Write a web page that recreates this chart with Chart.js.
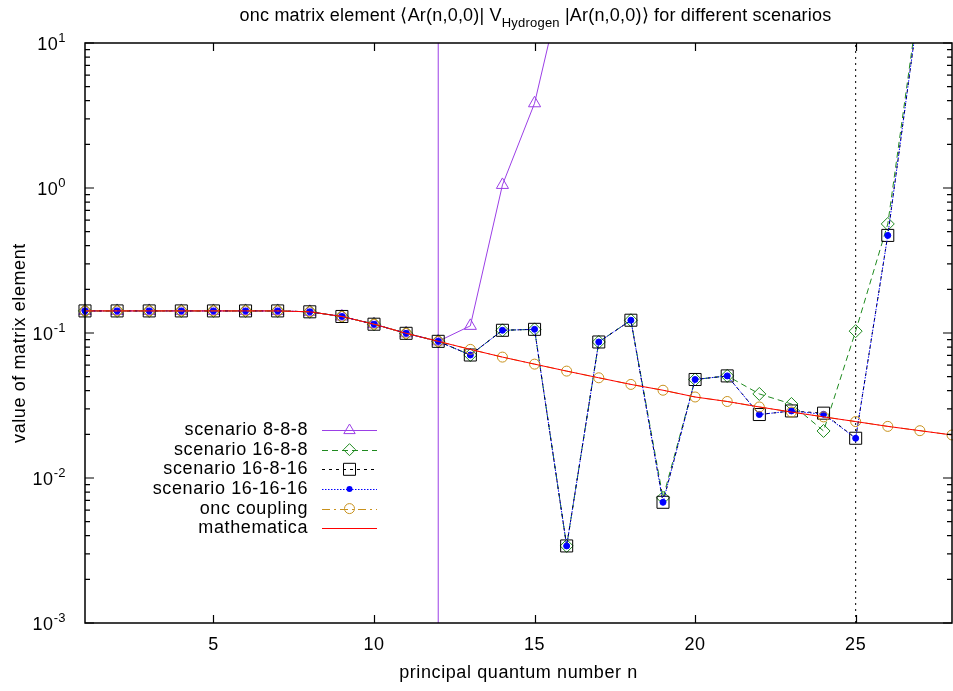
<!DOCTYPE html>
<html><head><meta charset="utf-8">
<script src="https://cdn.jsdelivr.net/npm/chart.js@4/dist/chart.umd.min.js"></script>
<style>html,body{margin:0;padding:0;background:#fff;}#wrap{width:953px;height:691px;}</style>
</head><body><div id="wrap"><canvas id="c" width="953" height="691"></canvas></div>
<script>
// ---- data ----
const nValues = [1,2,3,4,5,6,7,8,9,10,11,12,13,14,15,16,17,18,19,20,21,22,23,24,25,26,27,28];
const scenario888    = [0.142,0.142,0.142,0.142,0.142,0.142,0.142,0.140,0.130,0.115,0.0995,0.0876,0.112,1.05,3.84,34];
const scenario1688   = [0.142,0.142,0.142,0.142,0.142,0.142,0.142,0.140,0.130,0.115,0.0995,0.0876,0.0705,0.1044,0.106,0.0034,0.0867,0.1225,0.0073,0.0478,0.0506,0.038,0.0324,0.0211,0.103,0.565,22.5];
const scenario16816  = [0.142,0.142,0.142,0.142,0.142,0.142,0.142,0.140,0.130,0.115,0.0995,0.0876,0.0705,0.1044,0.106,0.0034,0.0867,0.1225,0.0068,0.0478,0.0506,0.0274,0.029,0.028,0.0188,0.471,20.4];
const scenario161616 = [0.142,0.142,0.142,0.142,0.142,0.142,0.142,0.140,0.130,0.115,0.0995,0.0876,0.0705,0.1044,0.106,0.0034,0.0867,0.1225,0.0068,0.0478,0.0506,0.0274,0.029,0.0275,0.0188,0.471,20.4];
const oncCoupling    = [0.142,0.142,0.142,0.142,0.142,0.142,0.142,0.140,0.130,0.115,0.0995,0.0876,0.0771,0.0682,0.0610,0.0546,0.0491,0.0442,0.0403,0.0362,0.0337,0.0309,0.0285,0.0264,0.0245,0.0227,0.0212,0.0198];
const mathematica    = [0.142,0.142,0.142,0.142,0.142,0.142,0.142,0.140,0.130,0.115,0.0995,0.0876,0.0771,0.0682,0.0610,0.0546,0.0491,0.0442,0.0403,0.0362,0.0337,0.0309,0.0285,0.0264,0.0245,0.0227,0.0212,0.0198];
const cutoffN888   = [12];
const cutoffN16816 = [25];
const xRange = [1, 28];
const yRange = [1e-3, 10];
const xTickLabels = [5, 10, 15, 20, 25];
const yTickExponents = [-3, -2, -1, 0, 1];
const seriesLabels = ['scenario 8-8-8','scenario 16-8-8','scenario 16-8-16','scenario 16-16-16','onc coupling','mathematica'];

// ---- styling ----
const FONT = '"Liberation Sans", Arial, Helvetica, sans-serif';
const COL = {p:'#9b3fe6', g:'#1f8a1f', k:'#000000', b:'#0000ff', o:'#c8911c', r:'#ff0000'};
const CLIP = {left: 12, right: 12, top: 0, bottom: 12};

function pts(ys){ return ys.map((y,i)=>({x:nValues[i], y})); }
function vline(xs){ return [{x:xs[0], y:yRange[0]},{x:xs[0], y:yRange[1]}]; }

function series(label, ys, color, dash, marker, radius, fill, order){
  return {label, data: pts(ys), showLine:true, borderColor:color, borderWidth:1, borderDash:dash,
    pointStyle: marker.style, pointRadius: radius, pointHoverRadius: radius, pointBorderColor: color,
    pointBackgroundColor: fill, pointBorderWidth: 1, tension:0, order, clip: CLIP,
    legendMarker: marker.key, legendRadius: marker.lr};
}

const datasets = [
  series(seriesLabels[0], scenario888, COL.p, [], {style:'triangle', key:'tri', lr:6}, 7, 'rgba(0,0,0,0)', 6),
  series(seriesLabels[1], scenario1688, COL.g, [6,4], {style:'rectRot', key:'dia', lr:6}, 6.5, 'rgba(0,0,0,0)', 5),
  series(seriesLabels[2], scenario16816, COL.k, [3,4], {style:'rect', key:'sq', lr:6}, 8.5, 'rgba(0,0,0,0)', 4),
  series(seriesLabels[3], scenario161616, COL.b, [1.5,1.5], {style:'circle', key:'dot', lr:3}, 3, COL.b, 3),
  series(seriesLabels[4], oncCoupling, COL.o, [8,4,2,4], {style:'circle', key:'circ', lr:5}, 5, 'rgba(0,0,0,0)', 2),
  series(seriesLabels[5], mathematica, COL.r, [], {style:false, key:null, lr:0}, 0, COL.r, 1),
  {label:'', data: vline(cutoffN888), showLine:true, borderColor:COL.p, borderWidth:1, pointRadius:0, order:7, clip:CLIP, noLegend:true},
  {label:'', data: vline(cutoffN16816), showLine:true, borderColor:COL.k, borderWidth:1, borderDash:[2,4], pointRadius:0, order:8, clip:CLIP, noLegend:true}
];

function setFont(ctx, size, spacing){
  ctx.font = size + 'px ' + FONT;
  try { ctx.letterSpacing = (spacing||0) + 'px'; } catch(e) {}
}

function drawMarker(ctx, key, x, y, r, color){
  ctx.save();
  ctx.setLineDash([]);
  ctx.strokeStyle = color; ctx.fillStyle = color; ctx.lineWidth = 1;
  ctx.beginPath();
  if (key === 'tri') {
    ctx.moveTo(x, y - r); ctx.lineTo(x + r*0.95, y + r*0.6); ctx.lineTo(x - r*0.95, y + r*0.6); ctx.closePath(); ctx.stroke();
  } else if (key === 'dia') {
    ctx.moveTo(x, y - r); ctx.lineTo(x + r, y); ctx.lineTo(x, y + r); ctx.lineTo(x - r, y); ctx.closePath(); ctx.stroke();
  } else if (key === 'sq') {
    ctx.rect(x - r, y - r, 2*r, 2*r); ctx.stroke();
  } else if (key === 'dot') {
    ctx.arc(x, y, r, 0, Math.PI*2); ctx.fill();
  } else if (key === 'circ') {
    ctx.arc(x, y, r, 0, Math.PI*2); ctx.stroke();
  }
  ctx.restore();
}

const framePlugin = {
  id: 'frame',
  afterDatasetsDraw(chart){
    const ctx = chart.ctx, a = chart.chartArea, xs = chart.scales.x, ys = chart.scales.y;
    ctx.save();
    ctx.setLineDash([]);
    ctx.strokeStyle = '#000'; ctx.fillStyle = '#000';
    // border
    ctx.lineWidth = 1.5;
    ctx.strokeRect(a.left, a.top, a.right - a.left, a.bottom - a.top);
    // x ticks (inward, bottom and top)
    ctx.lineWidth = 1.2;
    xTickLabels.forEach(v => {
      const px = Math.round(xs.getPixelForValue(v)) + 0.5;
      ctx.beginPath();
      ctx.moveTo(px, a.bottom); ctx.lineTo(px, a.bottom - 8);
      ctx.moveTo(px, a.top); ctx.lineTo(px, a.top + 8);
      ctx.stroke();
    });
    // y ticks: majors and minors, left and right
    yTickExponents.forEach(e => {
      const py = ys.getPixelForValue(Math.pow(10, e));
      ctx.lineWidth = 1.2;
      ctx.beginPath();
      ctx.moveTo(a.left, py); ctx.lineTo(a.left + 9, py);
      ctx.moveTo(a.right, py); ctx.lineTo(a.right - 9, py);
      ctx.stroke();
      if (e < yTickExponents[yTickExponents.length-1]) {
        for (let m = 2; m <= 9; m++) {
          const pm = ys.getPixelForValue(m * Math.pow(10, e));
          ctx.beginPath();
          ctx.moveTo(a.left, pm); ctx.lineTo(a.left + 5, pm);
          ctx.moveTo(a.right, pm); ctx.lineTo(a.right - 5, pm);
          ctx.stroke();
        }
      }
    });
    // x tick labels
    setFont(ctx, 18, 0.6);
    ctx.textAlign = 'center'; ctx.textBaseline = 'middle';
    xTickLabels.forEach(v => ctx.fillText(String(v), xs.getPixelForValue(v), 645));
    // y tick labels 10^e
    const rightEdge = 66;
    yTickExponents.forEach(e => {
      const py = ys.getPixelForValue(Math.pow(10, e));
      const ex = e < 0 ? '-' + Math.abs(e) : String(e);
      setFont(ctx, 13, 0.4);
      const ew = ctx.measureText(ex).width;
      ctx.textAlign = 'left'; ctx.textBaseline = 'alphabetic';
      ctx.fillText(ex, rightEdge - ew, py - 1);
      setFont(ctx, 18, 0.6);
      const bw = ctx.measureText('10').width;
      ctx.fillText('10', rightEdge - ew - bw, py + 6.5);
    });
    // axis titles
    setFont(ctx, 18, 0.6);
    ctx.textAlign = 'center'; ctx.textBaseline = 'middle';
    ctx.fillText('principal quantum number n', (a.left + a.right)/2, 673);
    ctx.save();
    ctx.translate(20, 343);
    ctx.rotate(-Math.PI/2);
    ctx.fillText('value of matrix element', 0, 0);
    ctx.restore();
    // title with subscript
    const seg1 = 'onc matrix element \u27E8Ar(n,0,0)| V', sub = 'Hydrogen', seg3 = ' |Ar(n,0,0)\u27E9 for different scenarios';
    ctx.textAlign = 'left'; ctx.textBaseline = 'alphabetic';
    setFont(ctx, 18, 0.2); const w1 = ctx.measureText(seg1).width, w3 = ctx.measureText(seg3).width;
    setFont(ctx, 13, 0.2); const w2 = ctx.measureText(sub).width;
    let tx = 535.5 - (w1 + w2 + w3)/2;
    setFont(ctx, 18, 0.2); ctx.fillText(seg1, tx, 20.5); tx += w1;
    setFont(ctx, 13, 0.2); ctx.fillText(sub, tx, 27); tx += w2;
    setFont(ctx, 18, 0.2); ctx.fillText(seg3, tx, 20.5);
    // legend
    const rowY0 = 430, rowDy = 19.65, textRight = 308, lx0 = 322, lx1 = 377, mx = 349.5;
    let row = 0;
    chart.data.datasets.forEach(ds => {
      if (ds.noLegend) return;
      const y = rowY0 + row * rowDy;
      setFont(ctx, 18, 0.6);
      ctx.fillStyle = '#000'; ctx.textAlign = 'right'; ctx.textBaseline = 'middle';
      ctx.fillText(ds.label, textRight, y);
      ctx.save();
      ctx.strokeStyle = ds.borderColor; ctx.lineWidth = 1;
      ctx.setLineDash(ds.borderDash || []);
      ctx.beginPath(); ctx.moveTo(lx0, Math.round(y) + 0.5); ctx.lineTo(lx1, Math.round(y) + 0.5); ctx.stroke();
      ctx.restore();
      if (ds.legendMarker) drawMarker(ctx, ds.legendMarker, mx, y, ds.legendRadius, ds.borderColor);
      row++;
    });
    ctx.restore();
  }
};

new Chart(document.getElementById('c'), {
  type: 'scatter',
  data: { datasets },
  options: {
    responsive: false,
    animation: false,
    devicePixelRatio: 1,
    layout: { autoPadding: false, padding: { left: 85, right: 1, top: 43, bottom: 68 } },
    plugins: { legend: { display: false }, tooltip: { enabled: false }, title: { display: false } },
    scales: {
      x: { type: 'linear', min: xRange[0], max: xRange[1], display: false },
      y: { type: 'logarithmic', min: yRange[0], max: yRange[1], display: false }
    }
  },
  plugins: [framePlugin]
});
</script>
</body></html>
